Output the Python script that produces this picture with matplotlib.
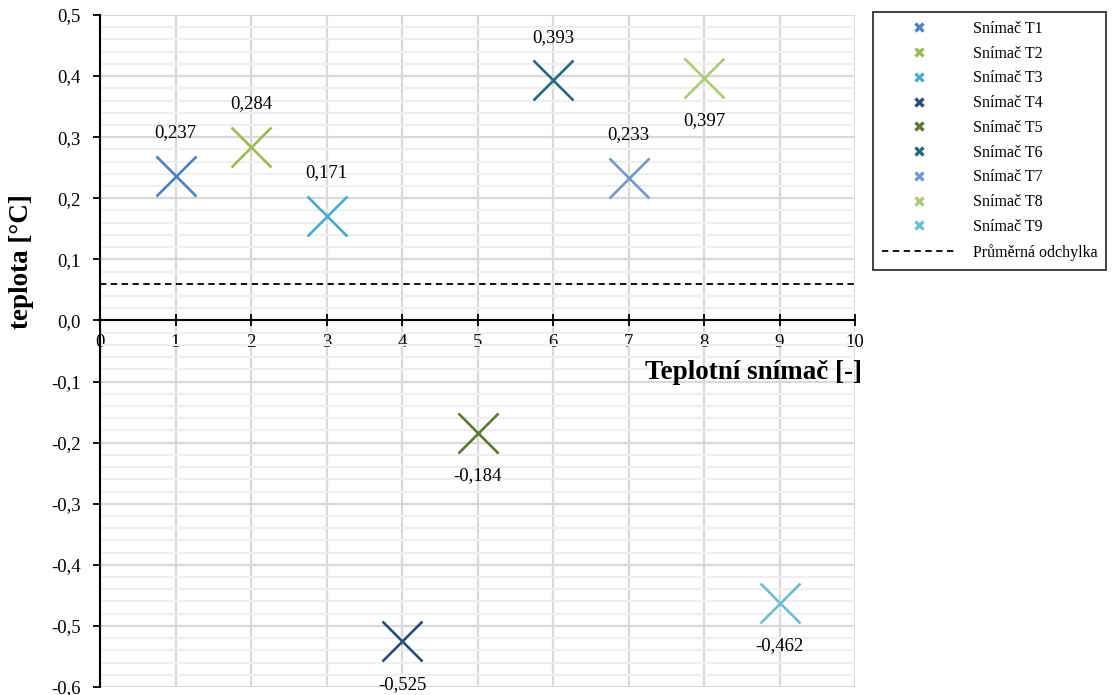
import matplotlib.pyplot as plt
from matplotlib.ticker import MultipleLocator, FuncFormatter

# data
sensors = ['Snímač T1', 'Snímač T2', 'Snímač T3', 'Snímač T4', 'Snímač T5',
           'Snímač T6', 'Snímač T7', 'Snímač T8', 'Snímač T9']
x_pos = [1, 2, 3, 4, 5, 6, 7, 8, 9]
deviation = [0.237, 0.284, 0.171, -0.525, -0.184, 0.393, 0.233, 0.397, -0.462]
label_above = [True, True, True, False, False, True, True, False, False]
mean_dev = 0.060

colors = ['#4F81BD', '#9BBB59', '#4BACC6', '#2C4D75', '#5F7530',
          '#276A7C', '#729ACA', '#AFC97A', '#6FBDD1']

plt.rcParams['font.family'] = ['Liberation Serif', 'DejaVu Serif']

fig = plt.figure(figsize=(11.16, 6.95), dpi=100)
ax = fig.add_axes([100 / 1116, 8 / 695, 755 / 1116, 672 / 695])

ax.set_xlim(0, 10)
ax.set_ylim(-0.6, 0.5)

# grid
ax.xaxis.set_major_locator(MultipleLocator(1))
ax.yaxis.set_major_locator(MultipleLocator(0.1))
ax.yaxis.set_minor_locator(MultipleLocator(0.02))
ax.grid(which='major', color='#d9d9d9', linewidth=1.6)
ax.grid(which='minor', axis='y', color='#efefef', linewidth=1.6)
ax.set_axisbelow(True)

for xi, yi, c, name, up in zip(x_pos, deviation, colors, sensors, label_above):
    ax.plot([xi], [yi], linestyle='none', marker='x', markersize=29,
            markeredgewidth=1.9, color=c, label=name)
    ax.annotate(f'{yi:.3f}'.replace('.', ','), (xi, yi),
                xytext=(0, 31 if up else -31), textcoords='offset points',
                ha='center', va='center', fontsize=13.5)

ax.axhline(mean_dev, color='black', linestyle=(0, (3.5, 2.5)), linewidth=1.3,
           label='Průměrná odchylka')

# spines
for s in ['top', 'right']:
    ax.spines[s].set_visible(False)
ax.spines['bottom'].set_position(('data', 0))
ax.spines['left'].set_linewidth(1.5)
ax.spines['bottom'].set_linewidth(1.5)
ax.tick_params(axis='y', which='major', direction='out', length=5, width=1.3,
               labelsize=13.5, pad=9)
ax.tick_params(axis='y', which='minor', length=0)
ax.tick_params(axis='x', direction='inout', length=9, width=1.3,
               labelsize=13.5, pad=5)
ax.yaxis.set_major_formatter(FuncFormatter(lambda v, p: f'{v:.1f}'.replace('.', ',')))

fig.text(645 / 1116, 1 - 373 / 695, 'Teplotní snímač [-]', fontsize=19.5,
         fontweight='bold', ha='left', va='center')
fig.text(22 / 1116, 1 - 262 / 695, 'teplota [°C]', fontsize=19.5,
         fontweight='bold', rotation=90, ha='center', va='center')

leg = fig.legend(loc='upper left', bbox_to_anchor=(873 / 1116, 1 - 12 / 695),
                 borderaxespad=0, fontsize=11.5, frameon=True, fancybox=False,
                 edgecolor='black', markerscale=0.22, handlelength=4.6,
                 handletextpad=1.1, labelspacing=0.55, borderpad=0.55)
leg.get_frame().set_linewidth(1.3)
for h in leg.legend_handles[:9]:
    h.set_markeredgewidth(2.4)

fig.savefig('out.png', dpi=100)
